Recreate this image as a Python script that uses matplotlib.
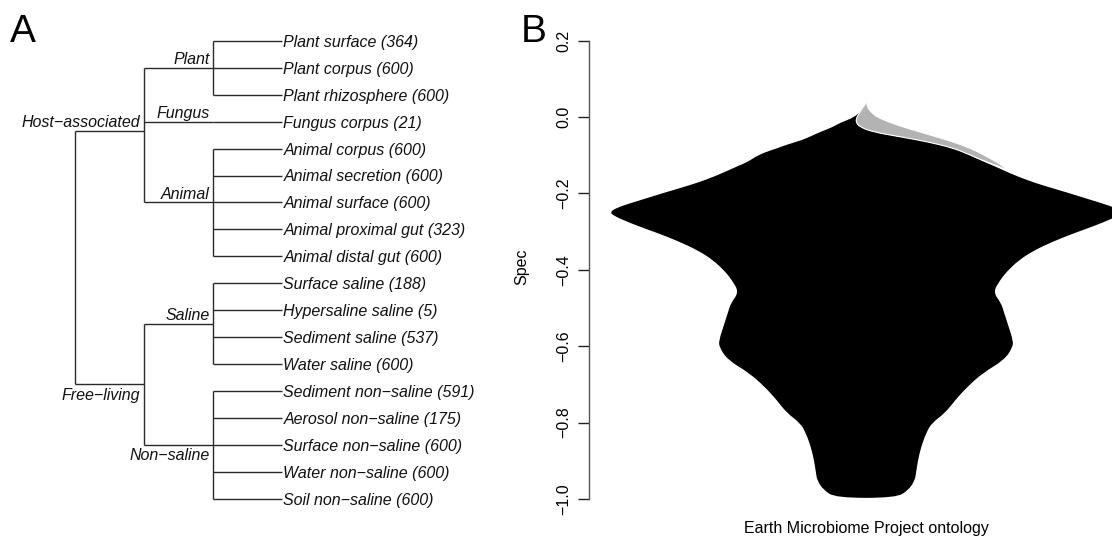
import matplotlib
matplotlib.use("Agg")
import matplotlib.pyplot as plt
from matplotlib.path import Path
from matplotlib.patches import PathPatch
import numpy as np

plt.rcParams['font.family'] = ['Liberation Sans', 'DejaVu Sans']

# ---------------- data: panel A (ontology tree) ----------------
leaf_names = ["Plant surface", "Plant corpus", "Plant rhizosphere",
              "Fungus corpus",
              "Animal corpus", "Animal secretion", "Animal surface",
              "Animal proximal gut", "Animal distal gut",
              "Surface saline", "Hypersaline saline", "Sediment saline", "Water saline",
              "Sediment non−saline", "Aerosol non−saline", "Surface non−saline",
              "Water non−saline", "Soil non−saline"]
leaf_counts = [364, 600, 600, 21, 600, 600, 600, 323, 600,
               188, 5, 537, 600, 591, 175, 600, 600, 600]
group_names = ["Plant", "Fungus", "Animal", "Saline", "Non−saline"]
group_sizes = [3, 1, 5, 4, 5]
group_parent = [0, 0, 0, 1, 1]
top_names = ["Host−associated", "Free−living"]
group_label_side = ["above", "above", "above", "above", "below"]
top_label_side = ["above", "below"]

# ---------------- data: panel B (violin of Spec) ----------------
spec_black = [0.037, 0.032, 0.019, 0.000, -0.015, -0.026, -0.039, -0.050, -0.060, -0.073,
              -0.081, -0.094, -0.105, -0.118, -0.128, -0.139, -0.157, -0.173, -0.186, -0.199,
              -0.212, -0.225, -0.238, -0.249, -0.259, -0.277, -0.293, -0.309, -0.327, -0.348,
              -0.374, -0.406, -0.427, -0.458, -0.487, -0.513, -0.550, -0.584, -0.602, -0.636,
              -0.670, -0.707, -0.741, -0.775, -0.801, -0.827, -0.864, -0.898, -0.932, -0.950,
              -0.976, -0.997]
width_left = [0.000, 0.002, 0.008, 0.022, 0.051, 0.065, 0.090, 0.108, 0.125, 0.157,
              0.173, 0.202, 0.218, 0.233, 0.251, 0.269, 0.300, 0.333, 0.365, 0.398,
              0.429, 0.461, 0.490, 0.502, 0.494, 0.463, 0.431, 0.398, 0.365, 0.331,
              0.300, 0.275, 0.263, 0.249, 0.265, 0.271, 0.280, 0.288, 0.288, 0.271,
              0.229, 0.198, 0.175, 0.155, 0.129, 0.118, 0.108, 0.102, 0.098, 0.096,
              0.084, 0.059]
width_right = [0.000, -0.001, -0.009, -0.018, -0.019, -0.012, 0.014, 0.059, 0.106, 0.150,
               0.171, 0.196, 0.212, 0.233, 0.251, 0.269, 0.300, 0.333, 0.365, 0.398,
               0.429, 0.461, 0.490, 0.502, 0.494, 0.463, 0.431, 0.398, 0.365, 0.331,
               0.300, 0.275, 0.263, 0.249, 0.265, 0.271, 0.280, 0.288, 0.288, 0.271,
               0.229, 0.198, 0.175, 0.155, 0.129, 0.118, 0.108, 0.102, 0.098, 0.096,
               0.084, 0.059]
spec_gray = [0.071, 0.045, 0.034, 0.026, 0.013, 0.000, -0.013, -0.026, -0.039, -0.052,
             -0.065, -0.081, -0.099, -0.118, -0.133, -0.146]
gray_inner = [0.000, 0.000, -0.001, -0.006, -0.012, -0.018, -0.020, -0.012, 0.014, 0.069,
              0.122, 0.171, 0.204, 0.237, 0.269, 0.284]
gray_outer = [0.000, 0.001, 0.002, 0.003, 0.010, 0.022, 0.045, 0.073, 0.106, 0.139,
              0.171, 0.204, 0.231, 0.257, 0.273, 0.284]
yticks = [-1.0, -0.8, -0.6, -0.4, -0.2, 0.0, 0.2]

# ---------------- figure ----------------
fig = plt.figure(figsize=(11.12, 5.36), dpi=100)

# ---- panel A ----
ax0 = fig.add_axes([0, 0, 0.5, 1])
ax0.set_xlim(-75 / 69, (556 - 75) / 69)
ax0.set_ylim((536 - 40.7) / 26.96, -40.7 / 26.96)
ax0.axis('off')
lc = '#2a2a2a'
lw = 1.0
fs = 11.5

leaf_y = np.arange(len(leaf_names), dtype=float)
group_y = []
start = 0
for gi, size in enumerate(group_sizes):
    ys = leaf_y[start:start + size]
    gy = ys.mean()
    group_y.append(gy)
    if size > 1:
        ax0.plot([2, 2], [ys.min(), ys.max()], color=lc, lw=lw, solid_capstyle='butt')
    for y in ys:
        ax0.plot([2, 3], [y, y], color=lc, lw=lw, solid_capstyle='butt')
    start += size
group_y = np.array(group_y)

top_y = []
for ti in range(len(top_names)):
    idx = [i for i, p in enumerate(group_parent) if p == ti]
    ys = group_y[idx]
    top_y.append(ys.mean())
    ax0.plot([1, 1], [ys.min(), ys.max()], color=lc, lw=lw, solid_capstyle='butt')
    for y in ys:
        ax0.plot([1, 2], [y, y], color=lc, lw=lw, solid_capstyle='butt')
top_y = np.array(top_y)
ax0.plot([0, 0], [top_y.min(), top_y.max()], color=lc, lw=lw, solid_capstyle='butt')
for y in top_y:
    ax0.plot([0, 1], [y, y], color=lc, lw=lw, solid_capstyle='butt')

for name, cnt, y in zip(leaf_names, leaf_counts, leaf_y):
    ax0.annotate(f"{name} ({cnt})", (3, y), xytext=(1.0, -4.3), textcoords='offset points',
                 ha='left', va='baseline', fontsize=fs, style='italic', color='#111111')

def node_label(txt, x, y, side):
    dy = 2.6 if side == "above" else -11.0
    ax0.annotate(txt, (x, y), xytext=(-2.6, dy), textcoords='offset points',
                 ha='right', va='baseline', fontsize=fs, style='italic', color='#111111')

for name, y, side in zip(group_names, group_y, group_label_side):
    node_label(name, 2, y, side)
for name, y, side in zip(top_names, top_y, top_label_side):
    node_label(name, 1, y, side)

fig.text(10 / 1112, 1 - 42 / 536, "A", fontsize=28, ha='left', va='baseline')
fig.text(521 / 1112, 1 - 42 / 536, "B", fontsize=28, ha='left', va='baseline')

# ---- panel B ----
ax1 = fig.add_axes([589 / 1112, (536 - 510) / 536, 523 / 1112, 490 / 536])
center = 1.0
ax1.set_xlim(center - 277 / 510, center + 246 / 510)
ax1.set_ylim((117.1 - 510) / 381.9, (117.1 - 20) / 381.9)


def smooth_closed_path(xs, ys):
    """Closed outline through the read points, drawn with quadratic Bezier segments."""
    P = np.column_stack([xs, ys])
    n = len(P)
    mids = (P + np.roll(P, -1, axis=0)) / 2.0
    verts = [mids[-1]]
    codes = [Path.MOVETO]
    for i in range(n):
        verts += [P[i], mids[i]]
        codes += [Path.CURVE3, Path.CURVE3]
    verts.append(mids[-1])
    codes.append(Path.CLOSEPOLY)
    return Path(verts, codes)


sb = np.array(spec_black)
wl = np.array(width_left)
wr = np.array(width_right)
bx = np.concatenate([center - wl, (center + wr)[::-1]])
by = np.concatenate([sb, sb[::-1]])
ax1.add_patch(PathPatch(smooth_closed_path(bx, by), facecolor='black', edgecolor='none', lw=0))

sg = np.array(spec_gray)
gi_ = np.array(gray_inner)
go_ = np.array(gray_outer)
gx = np.concatenate([center + go_, (center + gi_)[::-1]])
gy = np.concatenate([sg, sg[::-1]])
ax1.add_patch(PathPatch(smooth_closed_path(gx, gy), facecolor='#b3b3b3', edgecolor='white', lw=0.8))

for s in ['top', 'right', 'bottom']:
    ax1.spines[s].set_visible(False)
ax1.spines['left'].set_bounds(-1.0, 0.2)
ax1.spines['left'].set_color('#555555')
ax1.spines['left'].set_linewidth(1.0)
ax1.set_xticks([])
ax1.set_yticks(yticks)
ax1.set_yticklabels([f"{v:.1f}".replace('-', '−') for v in yticks])
ax1.tick_params(axis='y', length=8, width=1.0, color='#222222', pad=5, labelsize=fs)
for lab in ax1.get_yticklabels():
    lab.set_rotation(90)
    lab.set_va('center')
ax1.patch.set_visible(False)

fig.text(522 / 1112, 1 - 267 / 536, "Spec", rotation=90, ha='center', va='center', fontsize=fs)
fig.text(866 / 1112, 1 - 533 / 536, "Earth Microbiome Project ontology",
         ha='center', va='baseline', fontsize=fs)

fig.savefig("out.png", dpi=100)
